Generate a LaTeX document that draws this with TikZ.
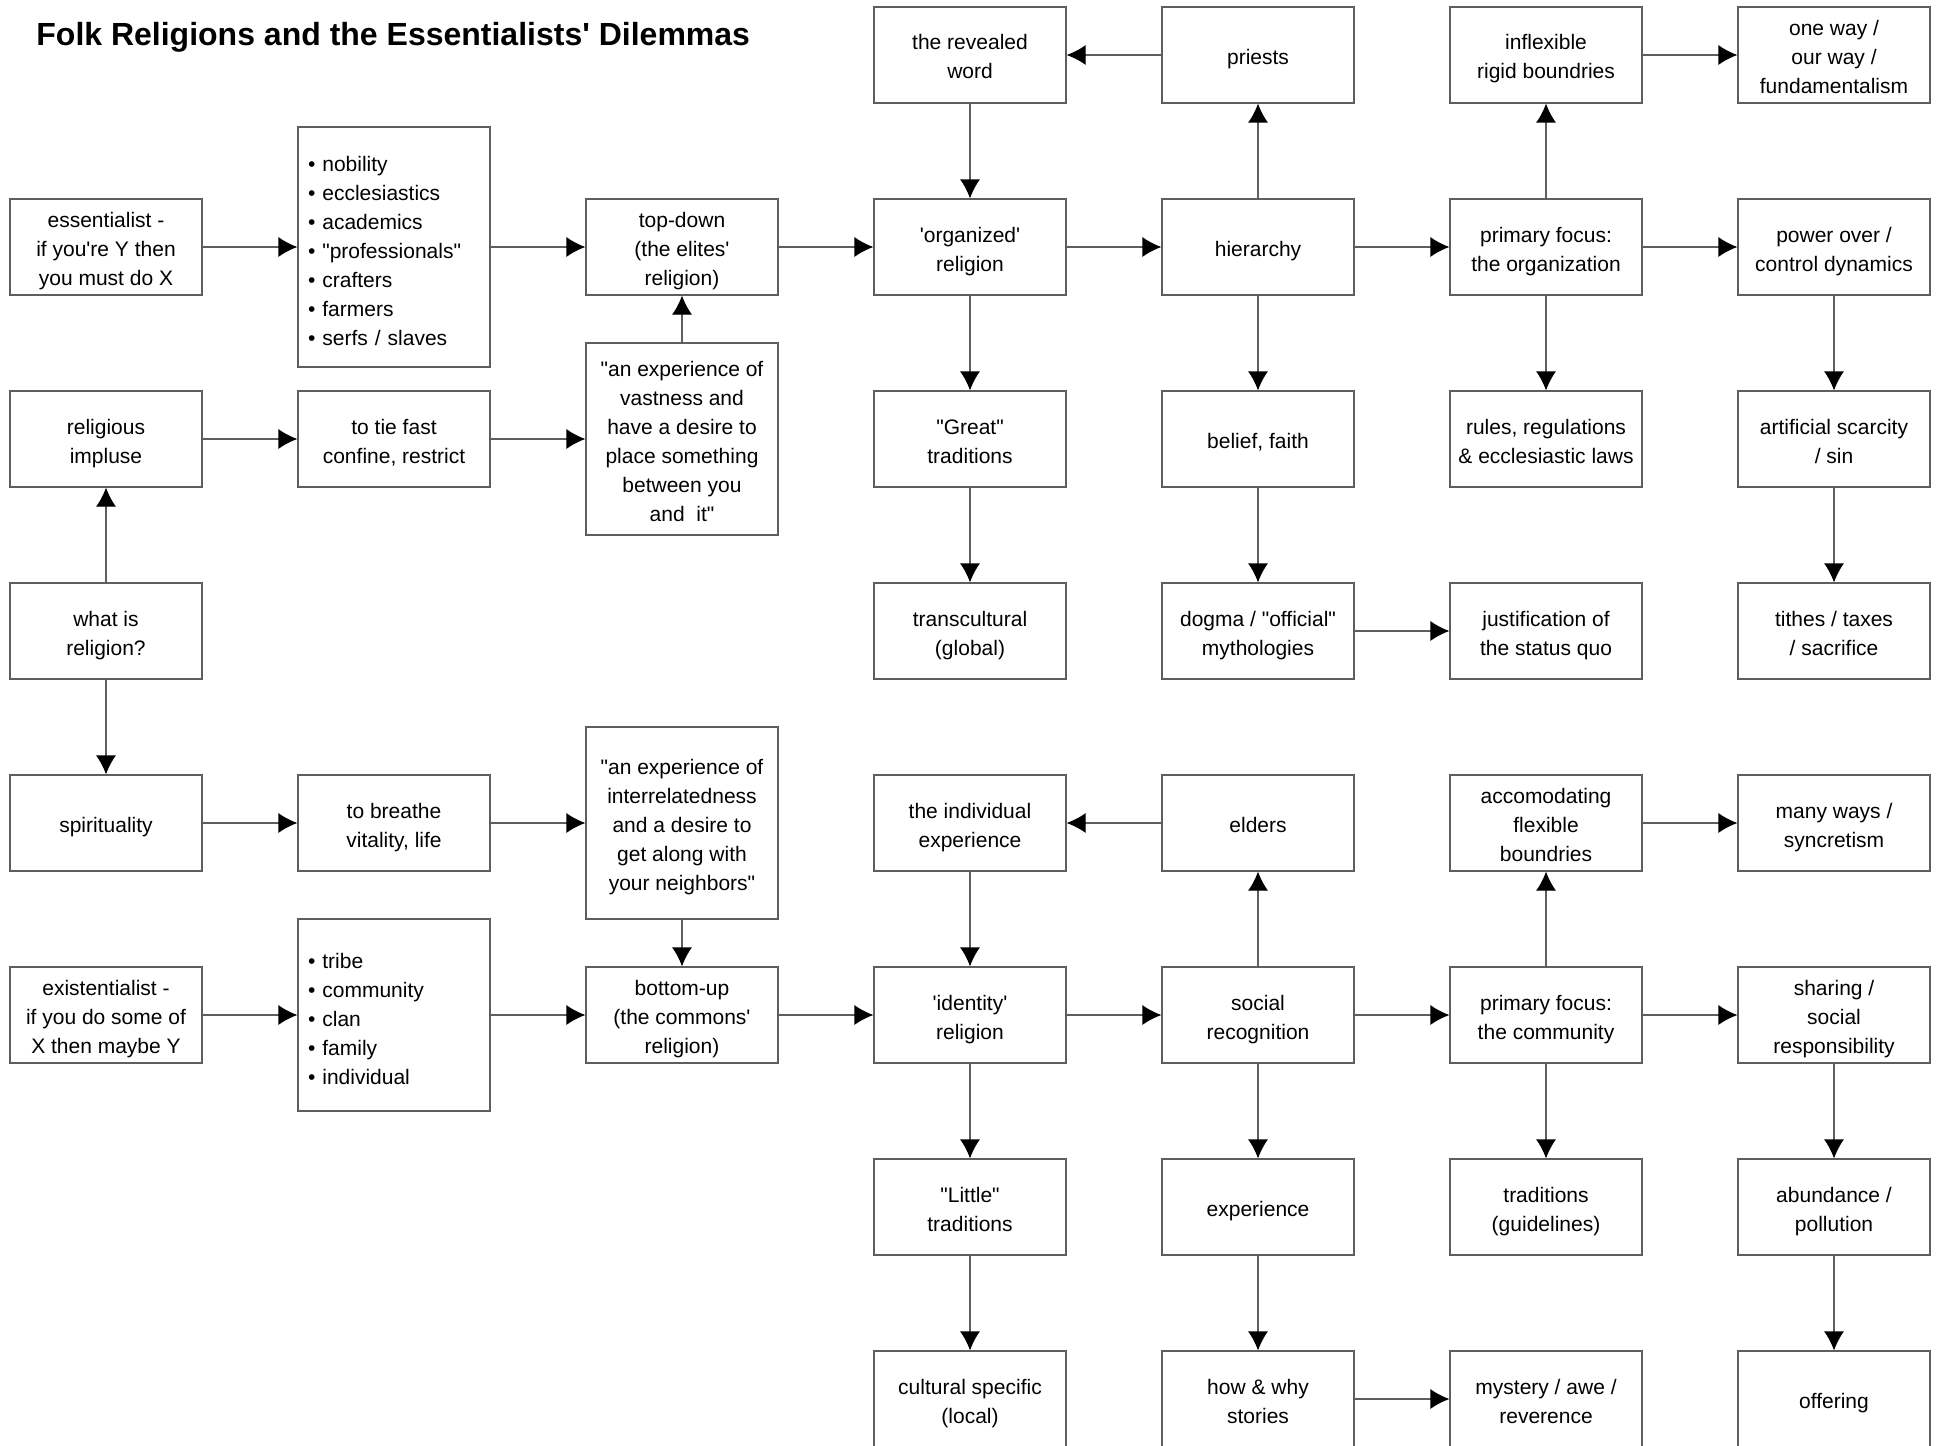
\documentclass[tikz,border=0pt]{standalone}
\usepackage{fontspec}
\setmainfont{Liberation Sans}
\usetikzlibrary{arrows.meta}
\definecolor{lgray}{rgb}{0.37, 0.37, 0.37}
\newcommand{\sq}{\textquotesingle}
\newcommand{\dq}{\textquotedbl}

\tikzset{
  box/.style={draw=lgray, line width=0.6pt, minimum width=96pt, minimum height=48pt,
    inner sep=2pt, align=center, font=\fontsize{10.5pt}{14.5pt}\selectfont,
    text height=#1*14.5pt-2.5pt, text depth=2.5pt},
  box/.default=1,
  listbox/.style={box, text height=, text depth=, text width=86pt, inner sep=5pt, align=left,
    execute at begin node={\rule{0pt}{12pt}}},
  arr/.style={draw=lgray, line width=0.6pt, -{Latex[length=9.5pt, width=10pt, color=black]}}
}

\begin{document}
\begin{tikzpicture}[x=0.5pt, y=-0.5pt]
      \useasboundingbox (0, 0) rectangle (1942, 1445);
      \node [anchor=base west, inner sep=0pt, font=\bfseries\fontsize{16pt}{19pt}\selectfont] (title) at (36, 46)
        {Folk Religions and the Essentialists\sq\ Dilemmas};

      \node [box=2] (revealed) at (970, 55) {the revealed\\word};
      \node [box] (priests) at (1258, 55) {priests};
      \node [box=2] (inflexible) at (1546, 55) {inflexible\\rigid boundries};
      \node [box=3] (oneway) at (1834, 55) {one way /\\our way /\\fundamentalism};

      \node [box=3] (essent) at (106, 247) {essentialist -\\if you\sq re Y then\\you must do X};
      \node [listbox, minimum height=120pt] (elites) at (394, 247)
        {\textbullet\ nobility\\\textbullet\ ecclesiastics\\\textbullet\ academics\\\textbullet\ \dq professionals\dq\\\textbullet\ crafters\\\textbullet\ farmers\\\textbullet\ serfs / slaves};
      \node [box=3] (topdown) at (682, 247) {top-down\\(the elites\sq\\religion)};
      \node [box=2] (organized) at (970, 247) {\sq organized\sq\\religion};
      \node [box] (hier) at (1258, 247) {hierarchy};
      \node [box=2] (focusorg) at (1546, 247) {primary focus:\\the organization};
      \node [box=2] (power) at (1834, 247) {power over /\\control dynamics};

      \node [box=2] (impulse) at (106, 439) {religious\\impluse};
      \node [box=2] (tiefast) at (394, 439) {to tie fast\\confine, restrict};
      \node [box=6, minimum height=96pt] (vastness) at (682, 439)
        {\dq an experience of\\vastness and\\have a desire to\\place something\\between you\\and~ it\dq};
      \node [box=2] (great) at (970, 439) {\dq Great\dq\\traditions};
      \node [box] (belief) at (1258, 439) {belief, faith};
      \node [box=2] (rules) at (1546, 439) {rules, regulations\\\& ecclesiastic laws};
      \node [box=2] (scarcity) at (1834, 439) {artificial scarcity\\/ sin};

      \node [box=2] (whatis) at (106, 631) {what is\\religion?};
      \node [box=2] (transcult) at (970, 631) {transcultural\\(global)};
      \node [box=2] (dogma) at (1258, 631) {dogma / \dq official\dq\\mythologies};
      \node [box=2] (justif) at (1546, 631) {justification of\\the status quo};
      \node [box=2] (tithes) at (1834, 631) {tithes / taxes\\/ sacrifice};

      \node [box] (spirit) at (106, 823) {spirituality};
      \node [box=2] (breathe) at (394, 823) {to breathe\\vitality, life};
      \node [box=5, minimum height=96pt] (interrel) at (682, 823)
        {\dq an experience of\\interrelatedness\\and a desire to\\get along with\\your neighbors\dq};
      \node [box=2] (indiv) at (970, 823) {the individual\\experience};
      \node [box] (elders) at (1258, 823) {elders};
      \node [box=3] (accom) at (1546, 823) {accomodating\\flexible\\boundries};
      \node [box=2] (manyways) at (1834, 823) {many ways /\\syncretism};

      \node [box=3] (exist) at (106, 1015) {existentialist -\\if you do some of\\X then maybe Y};
      \node [listbox, minimum height=96pt] (commons) at (394, 1015)
        {\textbullet\ tribe\\\textbullet\ community\\\textbullet\ clan\\\textbullet\ family\\\textbullet\ individual};
      \node [box=3] (bottomup) at (682, 1015) {bottom-up\\(the commons\sq\\religion)};
      \node [box=2] (identity) at (970, 1015) {\sq identity\sq\\religion};
      \node [box=2] (social) at (1258, 1015) {social\\recognition};
      \node [box=2] (focuscom) at (1546, 1015) {primary focus:\\the community};
      \node [box=3] (sharing) at (1834, 1015) {sharing /\\social\\responsibility};

      \node [box=2] (little) at (970, 1207) {\dq Little\dq\\traditions};
      \node [box] (experience) at (1258, 1207) {experience};
      \node [box=2] (guidelines) at (1546, 1207) {traditions\\(guidelines)};
      \node [box=2] (abundance) at (1834, 1207) {abundance /\\pollution};

      \node [box=2] (cultural) at (970, 1399) {cultural specific\\(local)};
      \node [box=2] (howwhy) at (1258, 1399) {how \& why\\stories};
      \node [box=2] (mystery) at (1546, 1399) {mystery / awe /\\reverence};
      \node [box] (offering) at (1834, 1399) {offering};

      \draw [arr] (priests) -- (revealed);
      \draw [arr] (inflexible) -- (oneway);
      \draw [arr] (revealed) -- (organized);
      \draw [arr] (hier) -- (priests);
      \draw [arr] (focusorg) -- (inflexible);

      \draw [arr] (essent) -- (elites);
      \draw [arr] (elites) -- (topdown);
      \draw [arr] (topdown) -- (organized);
      \draw [arr] (organized) -- (hier);
      \draw [arr] (hier) -- (focusorg);
      \draw [arr] (focusorg) -- (power);

      \draw [arr] (organized) -- (great);
      \draw [arr] (hier) -- (belief);
      \draw [arr] (focusorg) -- (rules);
      \draw [arr] (power) -- (scarcity);

      \draw [arr] (impulse) -- (tiefast);
      \draw [arr] (tiefast) -- (vastness);
      \draw [arr] (vastness) -- (topdown);
      \draw [arr] (great) -- (transcult);
      \draw [arr] (belief) -- (dogma);
      \draw [arr] (scarcity) -- (tithes);

      \draw [arr] (whatis) -- (impulse);
      \draw [arr] (whatis) -- (spirit);
      \draw [arr] (dogma) -- (justif);

      \draw [arr] (spirit) -- (breathe);
      \draw [arr] (breathe) -- (interrel);
      \draw [arr] (interrel) -- (bottomup);
      \draw [arr] (elders) -- (indiv);
      \draw [arr] (accom) -- (manyways);
      \draw [arr] (indiv) -- (identity);

      \draw [arr] (exist) -- (commons);
      \draw [arr] (commons) -- (bottomup);
      \draw [arr] (bottomup) -- (identity);
      \draw [arr] (identity) -- (social);
      \draw [arr] (social) -- (focuscom);
      \draw [arr] (focuscom) -- (sharing);
      \draw [arr] (social) -- (elders);
      \draw [arr] (focuscom) -- (accom);

      \draw [arr] (identity) -- (little);
      \draw [arr] (social) -- (experience);
      \draw [arr] (focuscom) -- (guidelines);
      \draw [arr] (sharing) -- (abundance);

      \draw [arr] (little) -- (cultural);
      \draw [arr] (experience) -- (howwhy);
      \draw [arr] (abundance) -- (offering);
      \draw [arr] (howwhy) -- (mystery);
    \end{tikzpicture}
\end{document}
